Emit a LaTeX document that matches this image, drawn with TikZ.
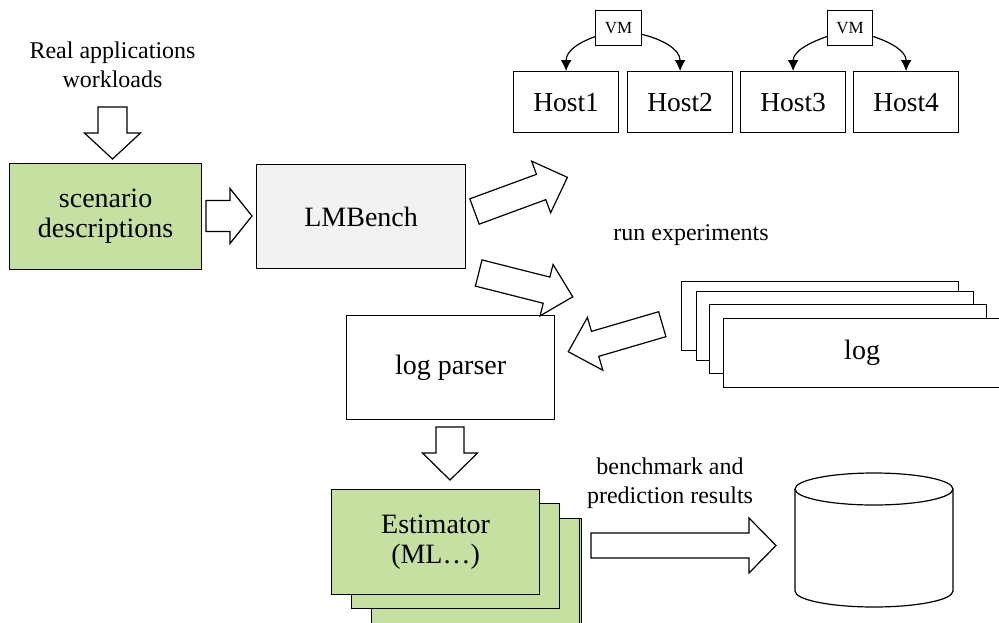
\documentclass[tikz,border=0pt]{standalone}
\usepackage{fontspec}
\setmainfont{Liberation Serif}
\usetikzlibrary{arrows.meta,calc}
\definecolor{boxgreen}{RGB}{197,224,160}
\definecolor{boxgray}{RGB}{242,242,242}
\newcommand\blockarrow[6]{%
  \begin{scope}[shift={#1},rotate=#2]
    \draw[blockarr] (0,-#4/2) -- ({#3-#5},-#4/2) -- ({#3-#5},-#6/2) -- (#3,0)
      -- ({#3-#5},#6/2) -- ({#3-#5},#4/2) -- (0,#4/2) -- cycle;
  \end{scope}}
\begin{document}
\begin{tikzpicture}[x=1pt,y=-1pt,
  box/.style={draw, line width=1.2pt, anchor=north west, align=center, inner sep=0pt,
    font=\fontsize{28}{30}\selectfont},
  hostbox/.style={box, minimum width=105pt, minimum height=61pt, font=\fontsize{27.5}{30}\selectfont},
  vmbox/.style={box, minimum height=35pt, font=\fontsize{17}{20}\selectfont},
  logbox/.style={box, fill=white, minimum width=277pt, minimum height=69pt},
  estbox/.style={box, fill=boxgreen, minimum width=208pt, minimum height=105pt},
  blockarr/.style={draw, fill=white, line width=1.2pt, line join=miter},
  small/.style={align=center, inner sep=0pt, font=\fontsize{24}{29}\selectfont},
  vmarrow/.style={line width=1.2pt, -{Latex[length=11pt,width=11pt]}}]
\useasboundingbox (0,0) rectangle (999,622);

% texts
\node[small] (real) at (112.5,64.5) {Real applications\\workloads};
\node[small, anchor=base] (run) at (691,240) {run experiments};
\node[small] (bench) at (670,483.5) {benchmark and\\prediction results};

% main boxes
\node[box, fill=boxgreen, minimum width=192pt, minimum height=106pt] (scen) at (9,163) {scenario\\descriptions};
\node[box, fill=boxgray, minimum width=209pt, minimum height=104pt] (lmb) at (256,164) {LMBench};
\node[box, minimum width=208pt, minimum height=104pt] (parser) at (346,315) {log parser};

% hosts and VMs
\node[hostbox] (h1) at (513,71) {Host1};
\node[hostbox] (h2) at (627,71) {Host2};
\node[hostbox] (h3) at (740,71) {Host3};
\node[hostbox] (h4) at (853,71) {Host4};
\node[vmbox, minimum width=46pt] (vm1) at (595,10) {VM};
\node[vmbox, minimum width=45pt] (vm2) at (827,10) {VM};
\draw[vmarrow] (vm1.-160) .. controls +(-17,6) and +(0,-20) .. (h1.north);
\draw[vmarrow] (vm1.-15) .. controls +(20,5) and +(0,-22) .. (h2.north);
\draw[vmarrow] (vm2.-160) .. controls +(-17,6) and +(0,-20) .. (h3.north);
\draw[vmarrow] (vm2.-20) .. controls +(18,6) and +(0,-20) .. (h4.north);

% log stack
\node[logbox] (log1) at (681,281) {};
\node[logbox] (log2) at (696,291) {};
\node[logbox] (log3) at (709,304) {};
\node[logbox] (log4) at (723,318) {log};

% estimator stack
\node[estbox] (est4) at (373,518) {};
\node[estbox] (est3) at (371,518) {};
\node[estbox] (est2) at (351,503) {};
\node[estbox] (est1) at (331,489) {Estimator\\(ML\ldots)};

% database cylinder
\coordinate (dbtop) at (874,489);
\coordinate (dbbot) at (874,591);
\draw[line width=1.2pt, fill=white] (795,489) -- (795,591)
  arc[start angle=180, end angle=360, x radius=79pt, y radius=16pt] -- (953,489);
\draw[line width=1.2pt] (dbtop) ellipse[x radius=79pt, y radius=16pt];

% block arrows
\coordinate (a0) at (112.5,107);
\coordinate (a1) at (206,216);
\coordinate (a2) at (474.5,211.5);
\coordinate (a3) at (478.7,273);
\coordinate (a4) at (662.3,324.2);
\coordinate (a5) at (450,427);
\coordinate (a6) at (591,545.5);
\blockarrow{(a0)}{-90}{52}{29}{26}{56}
\blockarrow{(a1)}{0}{46}{31}{22}{55}
\blockarrow{(a2)}{20.2}{99}{27}{28}{55}
\blockarrow{(a3)}{-14.2}{97}{27}{27}{53}
\blockarrow{(a4)}{196.3}{98}{26}{28}{55}
\blockarrow{(a5)}{-90}{53}{28}{27}{55}
\blockarrow{(a6)}{0}{185}{25}{27}{55}
\end{tikzpicture}
\end{document}
